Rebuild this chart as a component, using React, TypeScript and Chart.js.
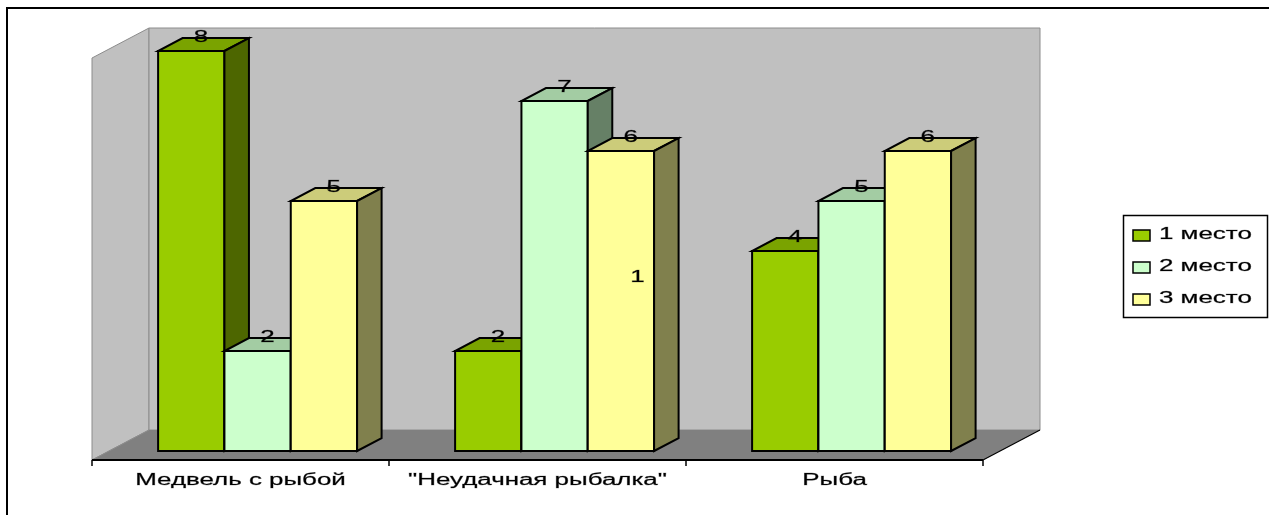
import React, { useEffect, useRef } from "react";
import { Chart, registerables } from "chart.js";

Chart.register(...registerables);

// ---- data ----
const categories = ["Медвель с рыбой", "\"Неудачная рыбалка\"", "Рыба"];
const seriesLabels = ["1 место", "2 место", "3 место"];
const place1 = [8, 2, 4];
const place2 = [2, 7, 5];
const place3 = [5, 6, 6];
const axisMin = 0;
const axisMax = 8.04;
// stray text visible inside the 3rd bar of the 2nd group in the original
const strayNote = { category: 1, series: 2, value: 3.46, text: "1" };

// ---- styles ----
const frontColors = ["#99CC00", "#CCFFCC", "#FFFF99"];
const topColors = ["#7AA300", "#A3CCA3", "#CCCC7A"];
const sideColors = ["#4D6600", "#668066", "#80804D"];
const WALL = "#C0C0C0";
const WALL_EDGE = "#8C8C8C";
const FLOOR = "#808080";
const FONT = '"Liberation Sans", Arial, sans-serif';
const FONT_SIZE = 16;
const STRETCH = 1.62;
const DEPTH = { x: 57, y: -30 };
const BAR_OFFSET = 0.3;
const BAR_DEPTH = 0.43;

function stretchedText(ctx: CanvasRenderingContext2D, text: string, x: number, y: number, align: CanvasTextAlign) {
  ctx.save();
  ctx.font = `${FONT_SIZE}px ${FONT}`;
  ctx.translate(x, y);
  ctx.scale(STRETCH, 1);
  ctx.textAlign = align;
  ctx.textBaseline = "middle";
  ctx.fillStyle = "#000";
  ctx.strokeStyle = "rgba(0,0,0,0.45)";
  ctx.lineWidth = 0.5;
  ctx.fillText(text, 0, 0);
  ctx.strokeText(text, 0, 0);
  ctx.restore();
}

function poly(ctx: CanvasRenderingContext2D, pts: number[][], fill: string | null, stroke: string | null, lw = 1) {
  ctx.beginPath();
  ctx.moveTo(pts[0][0], pts[0][1]);
  for (let i = 1; i < pts.length; i++) ctx.lineTo(pts[i][0], pts[i][1]);
  ctx.closePath();
  if (fill) {
    ctx.fillStyle = fill;
    ctx.fill();
  }
  if (stroke) {
    ctx.strokeStyle = stroke;
    ctx.lineWidth = lw;
    ctx.stroke();
  }
}

const scene3d = {
  id: "scene3d",
  beforeDraw(chart: any) {
    const ctx = chart.ctx as CanvasRenderingContext2D;
    ctx.save();
    ctx.fillStyle = "#FFFFFF";
    ctx.fillRect(0, 0, chart.width, chart.height);
    ctx.restore();
  },
  beforeDatasetsDraw(chart: any) {
    const ctx = chart.ctx as CanvasRenderingContext2D;
    const a = chart.chartArea;
    const L = a.left, R = a.right, T = a.top, B = a.bottom;
    const dx = DEPTH.x, dy = DEPTH.y;
    ctx.save();
    ctx.lineJoin = "miter";
    // walls and floor
    poly(ctx, [[L, B], [L, T], [L + dx, T + dy], [L + dx, B + dy]], WALL, WALL_EDGE);
    poly(ctx, [[L + dx, T + dy], [R + dx, T + dy], [R + dx, B + dy], [L + dx, B + dy]], WALL, WALL_EDGE);
    poly(ctx, [[L, B], [R, B], [R + dx, B + dy], [L + dx, B + dy]], FLOOR, null);
    ctx.beginPath();
    ctx.moveTo(R, B);
    ctx.lineTo(R + dx, B + dy);
    ctx.strokeStyle = "#000";
    ctx.lineWidth = 1.2;
    ctx.stroke();
    ctx.beginPath();
    ctx.moveTo(L, B);
    ctx.lineTo(L + dx, B + dy);
    ctx.strokeStyle = WALL_EDGE;
    ctx.lineWidth = 1;
    ctx.stroke();

    // bars
    const fx = dx * BAR_OFFSET, fy = dy * BAR_OFFSET;
    const bx = dx * BAR_DEPTH, by = dy * BAR_DEPTH;
    const labels: { t: string; x: number; y: number }[] = [];
    const nSeries = chart.data.datasets.length;
    for (let i = 0; i < categories.length; i++) {
      for (let j = 0; j < nSeries; j++) {
        const meta = chart.getDatasetMeta(j);
        const el = meta.data[i];
        const p = el.getProps(["x", "y", "base", "width"], true);
        const x0 = p.x - p.width / 2 + fx;
        const x1 = p.x + p.width / 2 + fx;
        const yt = p.y + fy;
        const yb = p.base + fy;
        poly(ctx, [[x0, yt], [x1, yt], [x1, yb], [x0, yb]], frontColors[j], "#000", 2);
        poly(ctx, [[x0, yt], [x1, yt], [x1 + bx, yt + by], [x0 + bx, yt + by]], topColors[j], "#000", 2);
        poly(ctx, [[x1, yt], [x1 + bx, yt + by], [x1 + bx, yb + by], [x1, yb]], sideColors[j], "#000", 2);
        const v = chart.data.datasets[j].data[i];
        labels.push({ t: String(v), x: (x0 + x1) / 2 + bx * 0.4, y: yt + by - 1 });
      }
    }
    labels.forEach((l) => stretchedText(ctx, l.t, l.x, l.y, "center"));

    // stray note
    {
      const el = chart.getDatasetMeta(strayNote.series).data[strayNote.category];
      const p = el.getProps(["x", "width"], true);
      const yPix = chart.scales.y.getPixelForValue(strayNote.value) + fy;
      stretchedText(ctx, strayNote.text, p.x + fx + p.width * 0.25, yPix, "center");
    }

    // category axis
    ctx.beginPath();
    ctx.moveTo(L, B);
    ctx.lineTo(R, B);
    ctx.strokeStyle = "#000";
    ctx.lineWidth = 2;
    ctx.stroke();
    const xs = chart.scales.x;
    const bounds: number[] = [L];
    for (let i = 1; i < categories.length; i++) {
      bounds.push((xs.getPixelForValue(i - 1) + xs.getPixelForValue(i)) / 2);
    }
    bounds.push(R);
    ctx.lineWidth = 1.5;
    bounds.forEach((bx2) => {
      ctx.beginPath();
      ctx.moveTo(bx2, B);
      ctx.lineTo(bx2, B + 6);
      ctx.stroke();
    });
    categories.forEach((c, i) => {
      stretchedText(ctx, c, xs.getPixelForValue(i), B + 21, "center");
    });
    ctx.restore();
    return false;
  },
  afterDraw(chart: any) {
    const ctx = chart.ctx as CanvasRenderingContext2D;
    ctx.save();
    // legend
    const lx = 1123, ly = 215, lw = 144, lh = 102;
    ctx.fillStyle = "#FFFFFF";
    ctx.fillRect(lx, ly, lw, lh);
    ctx.strokeStyle = "#000";
    ctx.lineWidth = 1.5;
    ctx.strokeRect(lx + 0.5, ly + 0.5, lw, lh);
    chart.data.datasets.forEach((ds: any, j: number) => {
      const cy = ly + 20 + j * 32;
      ctx.fillStyle = ds.backgroundColor;
      ctx.fillRect(lx + 10, cy - 5, 17, 11);
      ctx.strokeStyle = "#000";
      ctx.lineWidth = 1.5;
      ctx.strokeRect(lx + 10, cy - 5, 17, 11);
      stretchedText(ctx, ds.label, lx + 36, cy, "left");
    });
    // outer frame
    ctx.strokeStyle = "#000";
    ctx.lineWidth = 2;
    ctx.strokeRect(7, 8, chart.width + 20, chart.height + 20);
    ctx.restore();
  },
};

export default function App() {
  const ref = useRef<HTMLCanvasElement | null>(null);
  useEffect(() => {
    if (!ref.current) return;
    const chart = new Chart(ref.current, {
      type: "bar",
      data: {
        labels: categories,
        datasets: [
          { label: seriesLabels[0], data: place1, backgroundColor: frontColors[0] },
          { label: seriesLabels[1], data: place2, backgroundColor: frontColors[1] },
          { label: seriesLabels[2], data: place3, backgroundColor: frontColors[2] },
        ],
      },
      options: {
        responsive: false,
        animation: false,
        layout: { padding: { left: 92, right: 1269 - 983, top: 58, bottom: 515 - 460 } },
        datasets: { bar: { categoryPercentage: 0.67, barPercentage: 1 } },
        scales: {
          x: { type: "category", display: false, offset: true },
          y: { display: false, min: axisMin, max: axisMax },
        },
        plugins: { legend: { display: false }, tooltip: { enabled: false } },
      },
      plugins: [scene3d],
    } as any);
    return () => chart.destroy();
  }, []);
  return (
    <div style={{ position: "fixed", left: 0, top: 0, width: 1269, height: 515 }}>
      <canvas ref={ref} width={1269} height={515} style={{ display: "block" }} />
    </div>
  );
}
